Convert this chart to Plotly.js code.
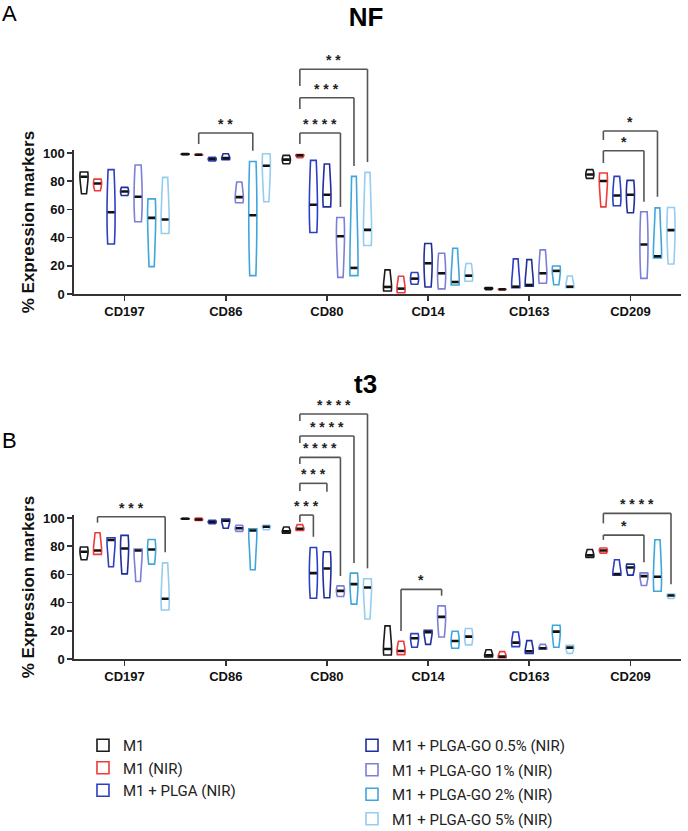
<!DOCTYPE html>
<html><head><meta charset="utf-8">
<script src="https://cdn.plot.ly/plotly-3.0.1.min.js"></script>
<style>html,body{margin:0;padding:0;background:#fff}#chart{width:688px;height:831px}</style>
</head><body><div id="chart"></div>
<script>
// ---------- data ----------
const categories = ['CD197','CD86','CD80','CD14','CD163','CD209'];
const seriesNames = ['M1','M1 (NIR)','M1 + PLGA (NIR)','M1 + PLGA-GO 0.5% (NIR)','M1 + PLGA-GO 1% (NIR)','M1 + PLGA-GO 2% (NIR)','M1 + PLGA-GO 5% (NIR)'];
const seriesColors = ['#1a1a1a','#ee3a3a','#2c3fc2','#1f2f9e','#7c7fd8','#3fa6dc','#94cdf0'];

// NF panel: per category [min, median, max] (% expression)
const NF_M1      = [[71.1,83.2,86.5],[98.9,99.2,99.5],[92.4,95.3,98.3],[2.1,5.0,17.1],[3.1,4.0,4.5],[82.0,84.8,88.2]];
const NF_M1NIR   = [[73.2,78.4,81.5],[98.5,98.8,99.1],[96.7,98.3,99.0],[0.9,3.8,12.6],[3.1,3.3,3.5],[61.8,80.1,85.8]];
const NF_PLGA    = [[35.5,58.0,88.2],[94.3,95.7,97.0],[43.6,63.3,94.8],[6.9,10.9,15.2],[4.5,5.2,24.9],[62.6,69.9,83.4]];
const NF_GO05    = [[69.9,72.7,75.6],[95.3,96.4,99.5],[61.8,70.4,92.2],[5.0,21.8,35.8],[5.5,6.4,24.4],[57.6,70.4,80.6]];
const NF_GO1     = [[51.2,69.0,91.5],[64.7,68.7,79.4],[11.8,41.0,54.3],[3.6,14.7,28.9],[7.6,14.7,31.3],[11.1,35.1,58.3]];
const NF_GO2     = [[19.4,54.0,67.5],[13.0,55.9,94.0],[13.0,18.5,83.4],[6.4,8.5,32.5],[6.6,16.4,19.9],[25.6,26.8,61.1]];
const NF_GO5     = [[42.9,52.8,82.7],[65.4,91.0,99.5],[34.4,45.5,86.3],[9.0,13.0,21.6],[4.5,5.2,12.8],[21.3,45.3,61.4]];

// t3 panel
const T3_M1      = [[70.4,76.1,79.4],[99.3,99.5,99.7],[89.3,90.5,93.6],[2.8,7.1,23.5],[1.4,2.6,6.6],[72.0,73.5,77.7]];
const T3_M1NIR   = [[74.2,77.0,89.6],[98.3,99.0,100.0],[91.2,92.4,95.3],[3.1,5.7,12.6],[0.9,1.7,5.2],[75.1,77.0,78.7]];
const T3_PLGA    = [[65.4,84.4,86.0],[96.0,97.2,98.3],[43.1,60.9,79.1],[8.3,14.7,18.0],[8.8,11.6,19.2],[59.5,60.2,70.4]];
const T3_GO05    = [[60.4,78.4,87.7],[92.7,98.1,99.3],[43.4,64.2,76.1],[10.4,19.0,20.4],[4.0,5.5,13.0],[59.5,64.9,67.3]];
const T3_GO1     = [[55.0,77.0,78.0],[90.5,92.7,94.8],[44.3,48.3,51.9],[15.6,29.9,37.7],[6.9,7.6,10.4],[52.1,58.8,61.1]];
const T3_GO2     = [[67.3,77.7,84.8],[63.3,91.2,92.4],[38.9,53.1,60.9],[7.6,12.8,19.7],[8.3,19.4,23.9],[48.1,58.3,84.6]];
const T3_GO5     = [[34.8,42.7,68.2],[91.7,93.8,94.8],[28.4,50.7,56.9],[10.0,15.9,21.6],[4.0,8.1,9.7],[42.9,45.0,46.0]];

// significance brackets: category, series compared, heights (data units), stars
const bracketsNF = [
  {cat:1, from:1, to:5, top:114.2, left:106.4, right:101.6, stars:'* *'},
  {cat:2, from:1, to:4, top:114.2, left:106.4, right:61.7,  stars:'* * * *'},
  {cat:2, from:1, to:5, top:139.2, left:131.2, right:90.8,  stars:'* * *'},
  {cat:2, from:1, to:6, top:159.4, left:147.5, right:93.6,  stars:'* *'},
  {cat:5, from:1, to:4, top:101.6, left:92.9,  right:65.5,  stars:'*'},
  {cat:5, from:1, to:5, top:115.6, left:109.2, right:69.0,  stars:'*'}
];
const bracketsT3 = [
  {cat:0, from:1, to:6, top:100.9, left:96.7,  right:75.7,  stars:'* * *'},
  {cat:2, from:1, to:2, top:102.1, left:97.2,  right:86.7,  stars:'* * *'},
  {cat:2, from:1, to:3, top:124.6, left:119.1, right:118.7, stars:'* * *'},
  {cat:2, from:1, to:4, top:143.0, left:138.3, right:58.9,  stars:'* * * *'},
  {cat:2, from:1, to:5, top:158.2, left:153.2, right:68.1,  stars:'* * * *'},
  {cat:2, from:1, to:6, top:173.8, left:168.8, right:64.3,  stars:'* * * *'},
  {cat:3, from:1, to:4, top:49.4,  left:19.9,  right:44.9,  stars:'*'},
  {cat:5, from:1, to:4, top:87.9,  left:84.5,  right:68.6,  stars:'*'},
  {cat:5, from:1, to:6, top:103.3, left:96.2,  right:53.0,  stars:'* * * *'}
];

// ---------- build ----------
const NF = [NF_M1, NF_M1NIR, NF_PLGA, NF_GO05, NF_GO1, NF_GO2, NF_GO5];
const T3 = [T3_M1, T3_M1NIR, T3_PLGA, T3_GO05, T3_GO1, T3_GO2, T3_GO5];

const VGAP = 0.064, VGROUPGAP = 0.4, YMAX = 102;
const domA = [0.64621, 0.81925], domB = [0.20698, 0.38002];
const AX = 'Liberation Sans, Arial, sans-serif';

const traces = [];
function addPanel(panel, tag, xa, ya, first) {
  panel.forEach((rows, s) => {
    rows.forEach((vals, c) => {
      traces.push({
        type: 'violin', name: seriesNames[s], legendgroup: 's' + s,
        legend: s < 3 ? 'legend' : 'legend2', showlegend: first && c === 0,
        xaxis: xa, yaxis: ya,
        offsetgroup: 's' + s, alignmentgroup: 'all',
        scalegroup: tag + '_' + s + '_' + c,
        x: [categories[c], categories[c], categories[c]],
        y: vals,
        spanmode: 'hard', scalemode: 'width', points: false,
        box: {visible: false}, meanline: {visible: false},
        fillcolor: 'rgba(255,255,255,0)',
        line: {color: seriesColors[s], width: 1.6},
        hoveron: 'violins'
      });
    });
  });
  panel.forEach((rows, s) => {
    traces.push({
      type: 'scatter', mode: 'markers', showlegend: false,
      legendgroup: 's' + s, xaxis: xa, yaxis: ya,
      x: categories, y: rows.map(r => r[1]),
      marker: {symbol: 'line-ew', size: 5, color: '#111', line: {width: 2.6, color: '#111'}},
      hoverinfo: 'skip'
    });
  });
}
addPanel(NF, 'nf', 'x', 'y', true);
addPanel(T3, 't3', 'x2', 'y2', false);

const slot = (1 - VGAP) / 7;
const xpos = (cat, s) => cat + (s - 3) * slot;
const shapes = [], annotations = [];
function addBrackets(list, xref, dom) {
  const yp = v => dom[0] + v / YMAX * (dom[1] - dom[0]);
  const ln = {color: '#555', width: 1.6};
  list.forEach(b => {
    const x1 = xpos(b.cat, b.from), x2 = xpos(b.cat, b.to);
    shapes.push({type: 'line', xref: xref, yref: 'paper', x0: x1, x1: x1, y0: yp(b.left), y1: yp(b.top), line: ln});
    shapes.push({type: 'line', xref: xref, yref: 'paper', x0: x1, x1: x2, y0: yp(b.top), y1: yp(b.top), line: ln});
    shapes.push({type: 'line', xref: xref, yref: 'paper', x0: x2, x1: x2, y0: yp(b.top), y1: yp(b.right), line: ln});
    annotations.push({xref: xref, yref: 'paper', x: (x1 + x2) / 2, y: yp(b.top), yanchor: 'bottom', xanchor: 'center',
      yshift: -1, showarrow: false, text: b.stars, font: {family: AX, size: 14, color: '#222', weight: 'bold'}});
  });
}
addBrackets(bracketsNF, 'x', domA);
addBrackets(bracketsT3, 'x2', domB);

annotations.push({xref: 'paper', yref: 'paper', x: 0.481, y: 0.5379, xanchor: 'center', yanchor: 'middle',
  showarrow: false, text: 't3', font: {family: AX, size: 26, color: '#000', weight: 'bold'}});
annotations.push({xref: 'paper', yref: 'paper', x: -0.107, y: 0.984, xanchor: 'center', yanchor: 'middle',
  showarrow: false, text: 'A', font: {family: AX, size: 22, color: '#000'}});
annotations.push({xref: 'paper', yref: 'paper', x: -0.107, y: 0.4705, xanchor: 'center', yanchor: 'middle',
  showarrow: false, text: 'B', font: {family: AX, size: 22, color: '#000'}});

function xAxis(anchor) {
  return {anchor: anchor, domain: [0, 1], type: 'category', categoryorder: 'array', categoryarray: categories,
    range: [-0.5, 5.5], showline: true, linecolor: '#333', linewidth: 1.6, ticks: 'outside', ticklen: 5,
    tickwidth: 1.6, tickcolor: '#333', showgrid: false, zeroline: false, fixedrange: true, automargin: false,
    tickfont: {family: AX, size: 13, color: '#111', weight: 'bold'}};
}
function yAxis(anchor, dom) {
  return {anchor: anchor, domain: dom, range: [0, YMAX], tickvals: [0, 20, 40, 60, 80, 100],
    showline: true, linecolor: '#333', linewidth: 1.6, ticks: 'outside', ticklen: 5, tickwidth: 1.6,
    tickcolor: '#333', showgrid: false, zeroline: false, fixedrange: true, automargin: true,
    tickfont: {family: AX, size: 13, color: '#111', weight: 'bold'},
    title: {text: '% Expression markers', standoff: 4, font: {family: AX, size: 17, color: '#111', weight: 'bold'}}};
}

const legFont = {family: 'Roboto, sans-serif', size: 15, color: '#222'};
const layout = {
  width: 688, height: 831, paper_bgcolor: '#fff', plot_bgcolor: '#fff',
  margin: {l: 74, r: 7, t: 0, b: 0, autoexpand: false},
  title: {text: 'NF', xref: 'container', yref: 'container', x: 366 / 688, y: 1 - 17 / 831,
    xanchor: 'center', yanchor: 'middle', font: {family: AX, size: 26, color: '#000', weight: 'bold'}},
  violinmode: 'group', violingap: VGAP, violingroupgap: VGROUPGAP,
  scattermode: 'group', scattergap: VGAP,
  xaxis: xAxis('y'), yaxis: yAxis('x', domA),
  xaxis2: xAxis('y2'), yaxis2: yAxis('x2', domB),
  legend: {x: 0.0148, y: 0.1227, xanchor: 'left', yanchor: 'top', bgcolor: 'rgba(0,0,0,0)',
    font: legFont, tracegroupgap: 0},
  legend2: {x: 0.458, y: 0.1227, xanchor: 'left', yanchor: 'top', bgcolor: 'rgba(0,0,0,0)',
    font: legFont, tracegroupgap: 2},
  shapes: shapes, annotations: annotations, showlegend: true
};
Plotly.newPlot('chart', traces, layout, {displayModeBar: false, staticPlot: true});
</script></body></html>
